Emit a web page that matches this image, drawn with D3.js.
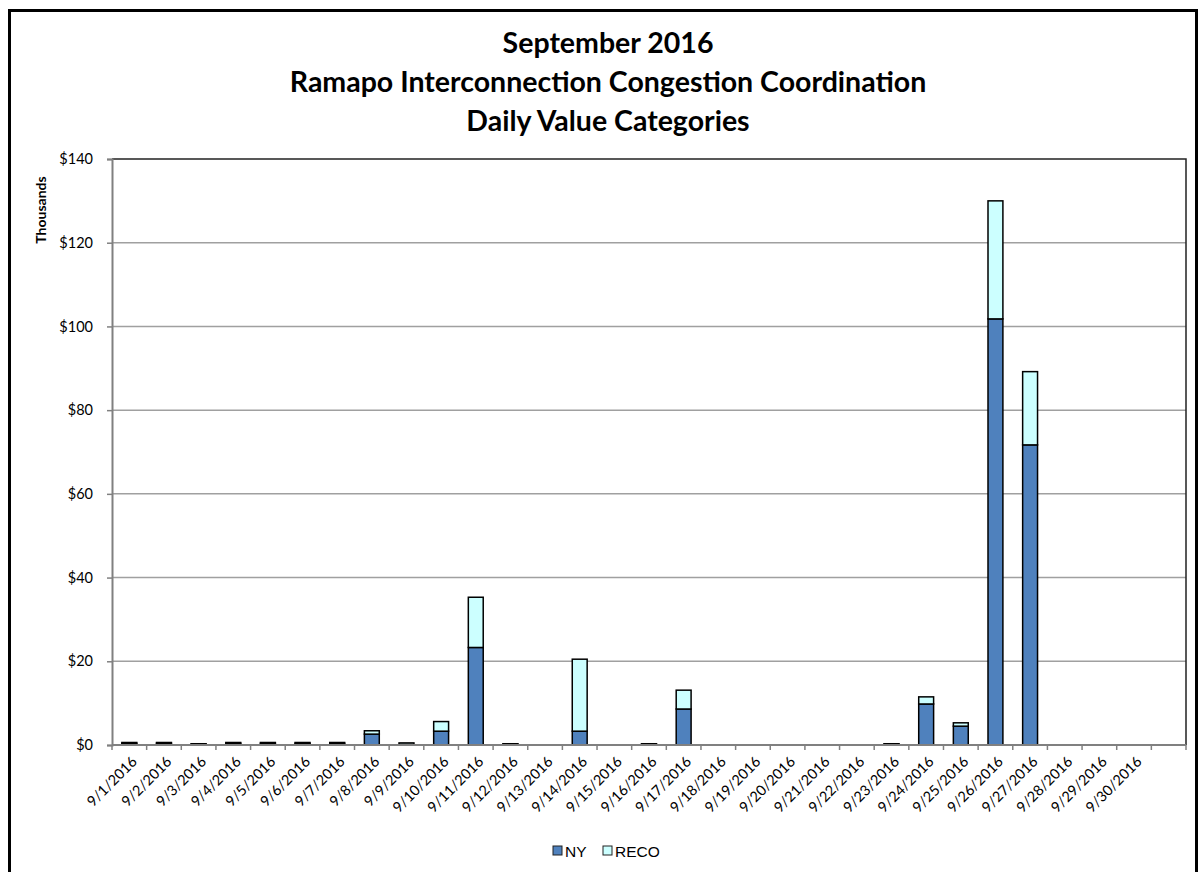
<!DOCTYPE html>
<html>
<head>
<meta charset="utf-8">
<script src="https://cdn.jsdelivr.net/npm/d3@7"></script>
<style>
    body { margin: 0; background: #fff; }
    .title { font-family: Lato, "Open Sans", sans-serif; font-weight: bold; font-size: 28.5px; }
    .tick text { font-family: Lato, "Open Sans", sans-serif; font-size: 14.5px; fill: #000; }
    .legend text { font-family: "Liberation Sans", Arial, sans-serif; font-size: 15.5px; }
</style>
</head>
<body>
<div id="chart"></div>
<script>
var categories = ["9/1/2016", "9/2/2016", "9/3/2016", "9/4/2016", "9/5/2016", "9/6/2016", "9/7/2016",
    "9/8/2016", "9/9/2016", "9/10/2016", "9/11/2016", "9/12/2016", "9/13/2016", "9/14/2016",
    "9/15/2016", "9/16/2016", "9/17/2016", "9/18/2016", "9/19/2016", "9/20/2016", "9/21/2016",
    "9/22/2016", "9/23/2016", "9/24/2016", "9/25/2016", "9/26/2016", "9/27/2016", "9/28/2016",
    "9/29/2016", "9/30/2016", ""];

// values in thousands of dollars
var ny = [0.4, 0.4, 0.2, 0.4, 0.4, 0.4, 0.4, 2.6, 0.1, 3.3, 23.3, 0.2, 0, 3.3, 0,
    0.2, 8.6, 0, 0, 0, 0, 0, 0.2, 9.8, 4.5, 101.8, 71.7, 0, 0, 0];
var reco = [0.2, 0.2, 0.1, 0.2, 0.2, 0.2, 0.2, 0.8, 0.4, 2.3, 12.0, 0.1, 0, 17.2, 0,
    0.1, 4.5, 0, 0, 0, 0, 0, 0.1, 1.7, 0.8, 28.2, 17.5, 0, 0, 0];

var yTicks = [0, 20, 40, 60, 80, 100, 120, 140];
var titleLines = ["September 2016", "Ramapo Interconnection Congestion Coordination", "Daily Value Categories"];
var seriesNames = ["NY", "RECO"];
var colors = { NY: "#4F81BD", RECO: "#CCFFFF" };

var width = 1201, height = 872;
var margin = { top: 159, right: 15, bottom: 127, left: 112 };
var plotW = width - margin.left - margin.right,
    plotH = height - margin.top - margin.bottom;

var rows = categories.slice(0, ny.length).map(function (c, i) {
    return { date: c, NY: ny[i], RECO: reco[i] };
});
var stacked = d3.stack().keys(seriesNames)(rows);

var x = d3.scaleBand()
    .domain(categories)
    .range([0, plotW])
    .paddingInner(0.57)
    .paddingOuter(0.285);

var y = d3.scaleLinear()
    .domain([0, 140])
    .range([plotH, 0]);

var svg = d3.select("#chart").append("svg")
    .attr("width", width)
    .attr("height", height);

// outer frame
svg.append("rect")
    .attr("x", 9.5).attr("y", 10.5)
    .attr("width", 1187).attr("height", 870)
    .attr("fill", "none")
    .attr("stroke", "#000")
    .attr("stroke-width", 3);

svg.selectAll("text.title")
    .data(titleLines)
    .enter().append("text")
    .attr("class", "title")
    .attr("x", 608)
    .attr("y", function (d, i) { return 53 + i * 39; })
    .attr("text-anchor", "middle")
    .text(function (d) { return d; });

var g = svg.append("g")
    .attr("transform", "translate(" + margin.left + "," + margin.top + ")");

// gridlines
g.selectAll("line.grid")
    .data(yTicks.slice(1, -1))
    .enter().append("line")
    .attr("class", "grid")
    .attr("x1", 0).attr("x2", plotW)
    .attr("y1", function (d) { return y(d); })
    .attr("y2", function (d) { return y(d); })
    .attr("stroke", "#A0A0A0")
    .attr("stroke-width", 1.5);

// top and right border of plot area
g.append("path")
    .attr("d", "M0,0H" + plotW + "V" + plotH)
    .attr("fill", "none")
    .attr("stroke", "#222")
    .attr("stroke-width", 1.5);

var yAxis = d3.axisLeft(y)
    .tickValues(yTicks)
    .tickSize(5)
    .tickPadding(14)
    .tickFormat(function (d) { return "$" + d; });

var yg = g.append("g").call(yAxis);
yg.select(".domain").attr("stroke", "#808080").attr("stroke-width", 2);
yg.selectAll(".tick line").attr("stroke", "#808080").attr("stroke-width", 1.5);

svg.append("text")
    .attr("transform", "translate(46," + (margin.top + 51) + ") rotate(-90)")
    .attr("text-anchor", "middle")
    .style("font-family", "Lato, 'Open Sans', sans-serif")
    .style("font-weight", "bold")
    .style("font-size", "14px")
    .text("Thousands");

// bars
var layer = g.selectAll("g.layer")
    .data(stacked)
    .enter().append("g")
    .attr("class", "layer")
    .attr("fill", function (d) { return colors[d.key]; });

layer.selectAll("rect")
    .data(function (d) { return d; })
    .enter().append("rect")
    .filter(function (d) { return d[1] - d[0] > 0; })
    .attr("x", function (d) { return x(d.data.date); })
    .attr("width", x.bandwidth())
    .attr("y", function (d) { return y(d[1]); })
    .attr("height", function (d) { return y(d[0]) - y(d[1]); })
    .attr("stroke", "#000")
    .attr("stroke-width", 1.5);

// x axis: ticks at category boundaries
var step = x.step();
var xAxis = d3.axisBottom(x).tickSize(0).tickPadding(0);
var xg = g.append("g")
    .attr("transform", "translate(0," + plotH + ")")
    .call(xAxis);
xg.select(".domain").remove();
xg.append("line")
    .attr("x1", 0).attr("x2", plotW)
    .attr("stroke", "#808080").attr("stroke-width", 2);
xg.selectAll("line.bound")
    .data(d3.range(categories.length + 1))
    .enter().append("line")
    .attr("class", "bound")
    .attr("x1", function (i) { return i * step; })
    .attr("x2", function (i) { return i * step; })
    .attr("y1", 0).attr("y2", 5)
    .attr("stroke", "#808080").attr("stroke-width", 1.5);
xg.selectAll(".tick text")
    .attr("text-anchor", "end")
    .attr("dy", "0.35em")
    .attr("transform", "translate(5,14) rotate(-45)");

// legend
var legend = svg.append("g")
    .attr("class", "legend")
    .attr("transform", "translate(553,845)");
var li = legend.selectAll("g")
    .data(seriesNames)
    .enter().append("g")
    .attr("transform", function (d, i) { return "translate(" + (i * 50) + ",0)"; });
li.append("rect")
    .attr("width", 9).attr("height", 9)
    .attr("y", 1)
    .attr("fill", function (d) { return colors[d]; })
    .attr("stroke", "#222")
    .attr("stroke-width", 1);
li.append("text")
    .attr("x", 12)
    .attr("y", 12)
    .text(function (d) { return d; });
</script>
</body>
</html>
